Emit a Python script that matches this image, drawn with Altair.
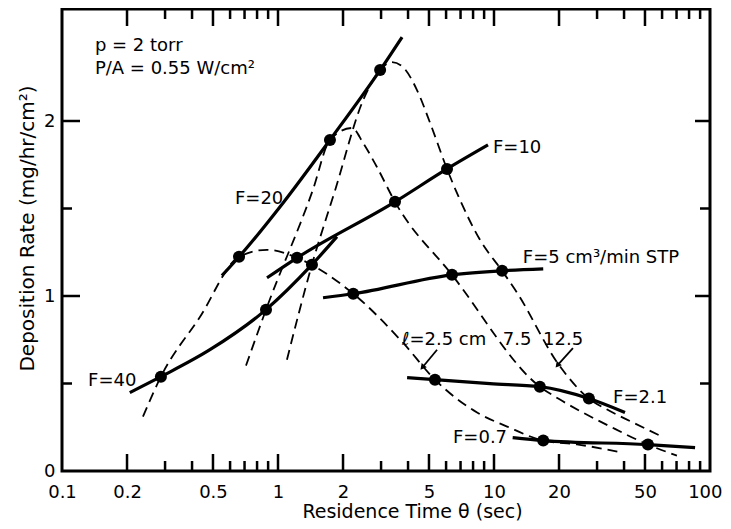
import altair as alt
import pandas as pd

# ---------------- data ----------------
# Solid lines: constant flow rate F (cm3/min STP)
f40_x = [0.206, 0.287, 0.484, 0.88, 1.436, 1.875]
f40_y = [0.448, 0.539, 0.693, 0.922, 1.179, 1.339]
f20_x = [0.55, 0.66, 1.055, 1.74, 2.97, 3.75]
f20_y = [1.116, 1.224, 1.532, 1.892, 2.291, 2.479]
f10_x = [0.89, 1.225, 3.48, 6.06, 9.38]
f10_y = [1.104, 1.218, 1.538, 1.726, 1.863]
f5_x = [1.616, 2.23, 6.39, 10.9, 16.9]
f5_y = [0.99, 1.013, 1.121, 1.144, 1.155]
f21_x = [3.96, 5.33, 9.58, 16.3, 27.5, 40.4]
f21_y = [0.534, 0.522, 0.499, 0.482, 0.414, 0.334]
f07_x = [12.2, 16.9, 51.6, 85.3]
f07_y = [0.191, 0.174, 0.151, 0.134]

# Measured points (filled circles)
pt_x = [0.287, 0.88, 1.436, 0.66, 1.74, 2.97, 1.225, 3.48, 6.06,
        2.23, 6.39, 10.9, 5.33, 16.3, 27.5, 16.9, 51.6]
pt_y = [0.539, 0.922, 1.179, 1.224, 1.892, 2.291, 1.218, 1.538, 1.726,
        1.013, 1.121, 1.144, 0.522, 0.482, 0.414, 0.174, 0.151]

# Dashed lines: constant position l (cm)
l25_x = [0.237, 0.287, 0.435, 0.66, 0.89, 1.225, 2.23, 3.79, 5.33, 8.35, 11.5, 16.9, 24.2, 39.1]
l25_y = [0.311, 0.539, 0.88, 1.224, 1.264, 1.218, 1.013, 0.733, 0.522, 0.334, 0.254, 0.174, 0.152, 0.106]
l75_x = [0.711, 0.88, 1.45, 1.74, 2.2, 2.48, 2.87, 3.48, 6.39, 16.3, 20.2, 25.8, 34.5, 51.6, 70.3]
l75_y = [0.602, 0.922, 1.606, 1.892, 1.96, 1.874, 1.737, 1.538, 1.121, 0.482, 0.408, 0.334, 0.254, 0.151, 0.088]
l125_x = [1.1, 1.436, 1.84, 2.48, 2.97, 3.37, 3.79, 4.4, 5.06, 6.06, 6.96, 8.61, 10.9, 12.8, 19.8, 27.5, 33.4, 44.0, 59.8]
l125_y = [0.636, 1.179, 1.606, 2.12, 2.291, 2.337, 2.308, 2.177, 1.989, 1.726, 1.549, 1.321, 1.144, 1.018, 0.613, 0.414, 0.351, 0.277, 0.197]

# Annotations
lab_left_text = ["p = 2 torr", "P/A = 0.55 W/cm²", "F=20", "F=10", "F=5 cm³/min STP",
                 "ℓ=2.5 cm", "F=2.1", "F=0.7", "F=40"]
lab_left_x = [0.142, 0.142, 0.632, 9.89, 13.6, 3.75, 35.6, 6.46, 0.132]
lab_left_y = [2.428, 2.30, 1.552, 1.843, 1.218, 0.75, 0.419, 0.191, 0.514]
lab_center_text = ["7.5", "12.5"]
lab_center_x = [12.8, 20.9]
lab_center_y = [0.75, 0.75]

arrow_x = [5.45, 23.2]
arrow_y = [0.693, 0.702]
arrow_x2 = [4.69, 19.8]
arrow_y2 = [0.596, 0.608]

x_labels = [0.1, 0.2, 0.5, 1, 2, 5, 10, 20, 50, 100]
x_major = [0.2, 0.5, 1, 2, 5, 10, 20, 50]
x_minor = [0.3, 0.4, 0.6, 0.7, 0.8, 0.9, 3, 4, 6, 7, 8, 9, 30, 40, 60, 70, 80, 90]
y_labels = [0, 1, 2]
y_major = [1, 2]
y_minor = [0.5, 1.5]

# ---------------- chart ----------------
W, H = 648, 462
FONT = "DejaVu Sans"

xscale = alt.Scale(type="log", domain=[0.1, 100], nice=False)
yscale = alt.Scale(domain=[0, 2.64], nice=False, zero=False)

xaxis = alt.Axis(values=x_labels,
                 labelExpr="datum.value < 1 ? format(datum.value, '.1f') : format(datum.value, 'd')",
                 ticks=False, domain=False, grid=False, labelFont=FONT, labelFontSize=18,
                 labelPadding=12, labelColor="black", labelOverlap=False, labelFlush=False,
                 labelAlign={"condition": {"test": "datum.value >= 100", "value": "right"}, "value": "center"},
                 labelOffset={"condition": {"test": "datum.value >= 100", "value": 12}, "value": 0},
                 title="Residence Time θ (sec)", titleFont=FONT, titleFontSize=19,
                 titleFontWeight="normal", titleColor="black",
                 titleX=350, titleY=46, titleAlign="center", titleBaseline="alphabetic")
yaxis = alt.Axis(values=y_labels, format="d", ticks=False, domain=False, grid=False,
                 labelFont=FONT, labelFontSize=18, labelPadding=7, labelColor="black",
                 title="Deposition Rate (mg/hr/cm²)", titleFont=FONT, titleFontSize=20,
                 titleFontWeight="normal", titleColor="black",
                 titleX=-29, titleY=219, titleAlign="center", titleBaseline="alphabetic")


def X(field="x"):
    return alt.X(f"{field}:Q", scale=xscale, axis=xaxis)


def Y(field="y"):
    return alt.Y(f"{field}:Q", scale=yscale, axis=yaxis)


def series(name, xs, ys):
    return pd.DataFrame({"x": xs, "y": ys, "s": name, "o": list(range(len(xs)))})


solid_df = pd.concat([series("F40", f40_x, f40_y), series("F20", f20_x, f20_y),
                      series("F10", f10_x, f10_y), series("F5", f5_x, f5_y),
                      series("F2.1", f21_x, f21_y), series("F0.7", f07_x, f07_y)])
dash_df = pd.concat([series("l2.5", l25_x, l25_y), series("l7.5", l75_x, l75_y),
                     series("l12.5", l125_x, l125_y)])
pts_df = pd.DataFrame({"x": pt_x, "y": pt_y})

solid = alt.Chart(solid_df).mark_line(color="black", strokeWidth=3.2, interpolate="monotone").encode(
    x=X(), y=Y(), detail="s:N", order="o:Q")
dashed = alt.Chart(dash_df).mark_line(color="black", strokeWidth=1.8, strokeDash=[10, 6],
                                      interpolate="monotone").encode(
    x=X(), y=Y(), detail="s:N", order="o:Q")
points = alt.Chart(pts_df).mark_circle(size=145, color="black", opacity=1).encode(x=X(), y=Y())

lab_left = alt.Chart(pd.DataFrame({"x": lab_left_x, "y": lab_left_y, "t": lab_left_text})).mark_text(
    align="left", baseline="middle", font=FONT, fontSize=18, color="black").encode(
    x=X(), y=Y(), text="t:N")
lab_center = alt.Chart(pd.DataFrame({"x": lab_center_x, "y": lab_center_y, "t": lab_center_text})).mark_text(
    align="center", baseline="middle", font=FONT, fontSize=18, color="black").encode(
    x=X(), y=Y(), text="t:N")

arr_df = pd.DataFrame({"x": arrow_x, "y": arrow_y, "x2": arrow_x2, "y2": arrow_y2})
arrows = alt.Chart(arr_df).mark_rule(color="black", strokeWidth=1.8).encode(
    x=X(), y=Y(), x2="x2:Q", y2="y2:Q")
heads = alt.Chart(arr_df).mark_point(shape="triangle", size=45, filled=True, color="black",
                                     opacity=1, angle=220).encode(x=X("x2"), y=Y("y2"))

TW = 2.5
xmaj_df = pd.DataFrame({"x": x_major})
xmin_df = pd.DataFrame({"x": x_minor})
ymaj_df = pd.DataFrame({"y": y_major})
ymin_df = pd.DataFrame({"y": y_minor})

tick_layers = [
    alt.Chart(xmaj_df).mark_rule(color="black", strokeWidth=TW).encode(
        x=X(), y=alt.value(H), y2=alt.value(H - 17)),
    alt.Chart(xmin_df).mark_rule(color="black", strokeWidth=TW).encode(
        x=X(), y=alt.value(H), y2=alt.value(H - 10)),
    alt.Chart(xmaj_df).mark_rule(color="black", strokeWidth=TW).encode(
        x=X(), y=alt.value(0), y2=alt.value(17)),
    alt.Chart(xmin_df).mark_rule(color="black", strokeWidth=TW).encode(
        x=X(), y=alt.value(0), y2=alt.value(10)),
    alt.Chart(ymaj_df).mark_rule(color="black", strokeWidth=TW).encode(
        y=Y(), x=alt.value(0), x2=alt.value(18)),
    alt.Chart(ymin_df).mark_rule(color="black", strokeWidth=TW).encode(
        y=Y(), x=alt.value(0), x2=alt.value(10)),
    alt.Chart(ymaj_df).mark_rule(color="black", strokeWidth=TW).encode(
        y=Y(), x=alt.value(W - 15), x2=alt.value(W)),
    alt.Chart(ymin_df).mark_rule(color="black", strokeWidth=TW).encode(
        y=Y(), x=alt.value(W - 10), x2=alt.value(W)),
]

chart = alt.layer(dashed, solid, points, arrows, heads, lab_left, lab_center, *tick_layers).properties(
    width=W, height=H,
    padding={"left": 54, "top": 1, "right": 13, "bottom": 50},
    autosize=alt.AutoSizeParams(type="none"),
    background="white",
).configure_view(stroke="black", strokeWidth=3)

chart.save("out.html", embed_options={"renderer": "svg", "actions": False})
